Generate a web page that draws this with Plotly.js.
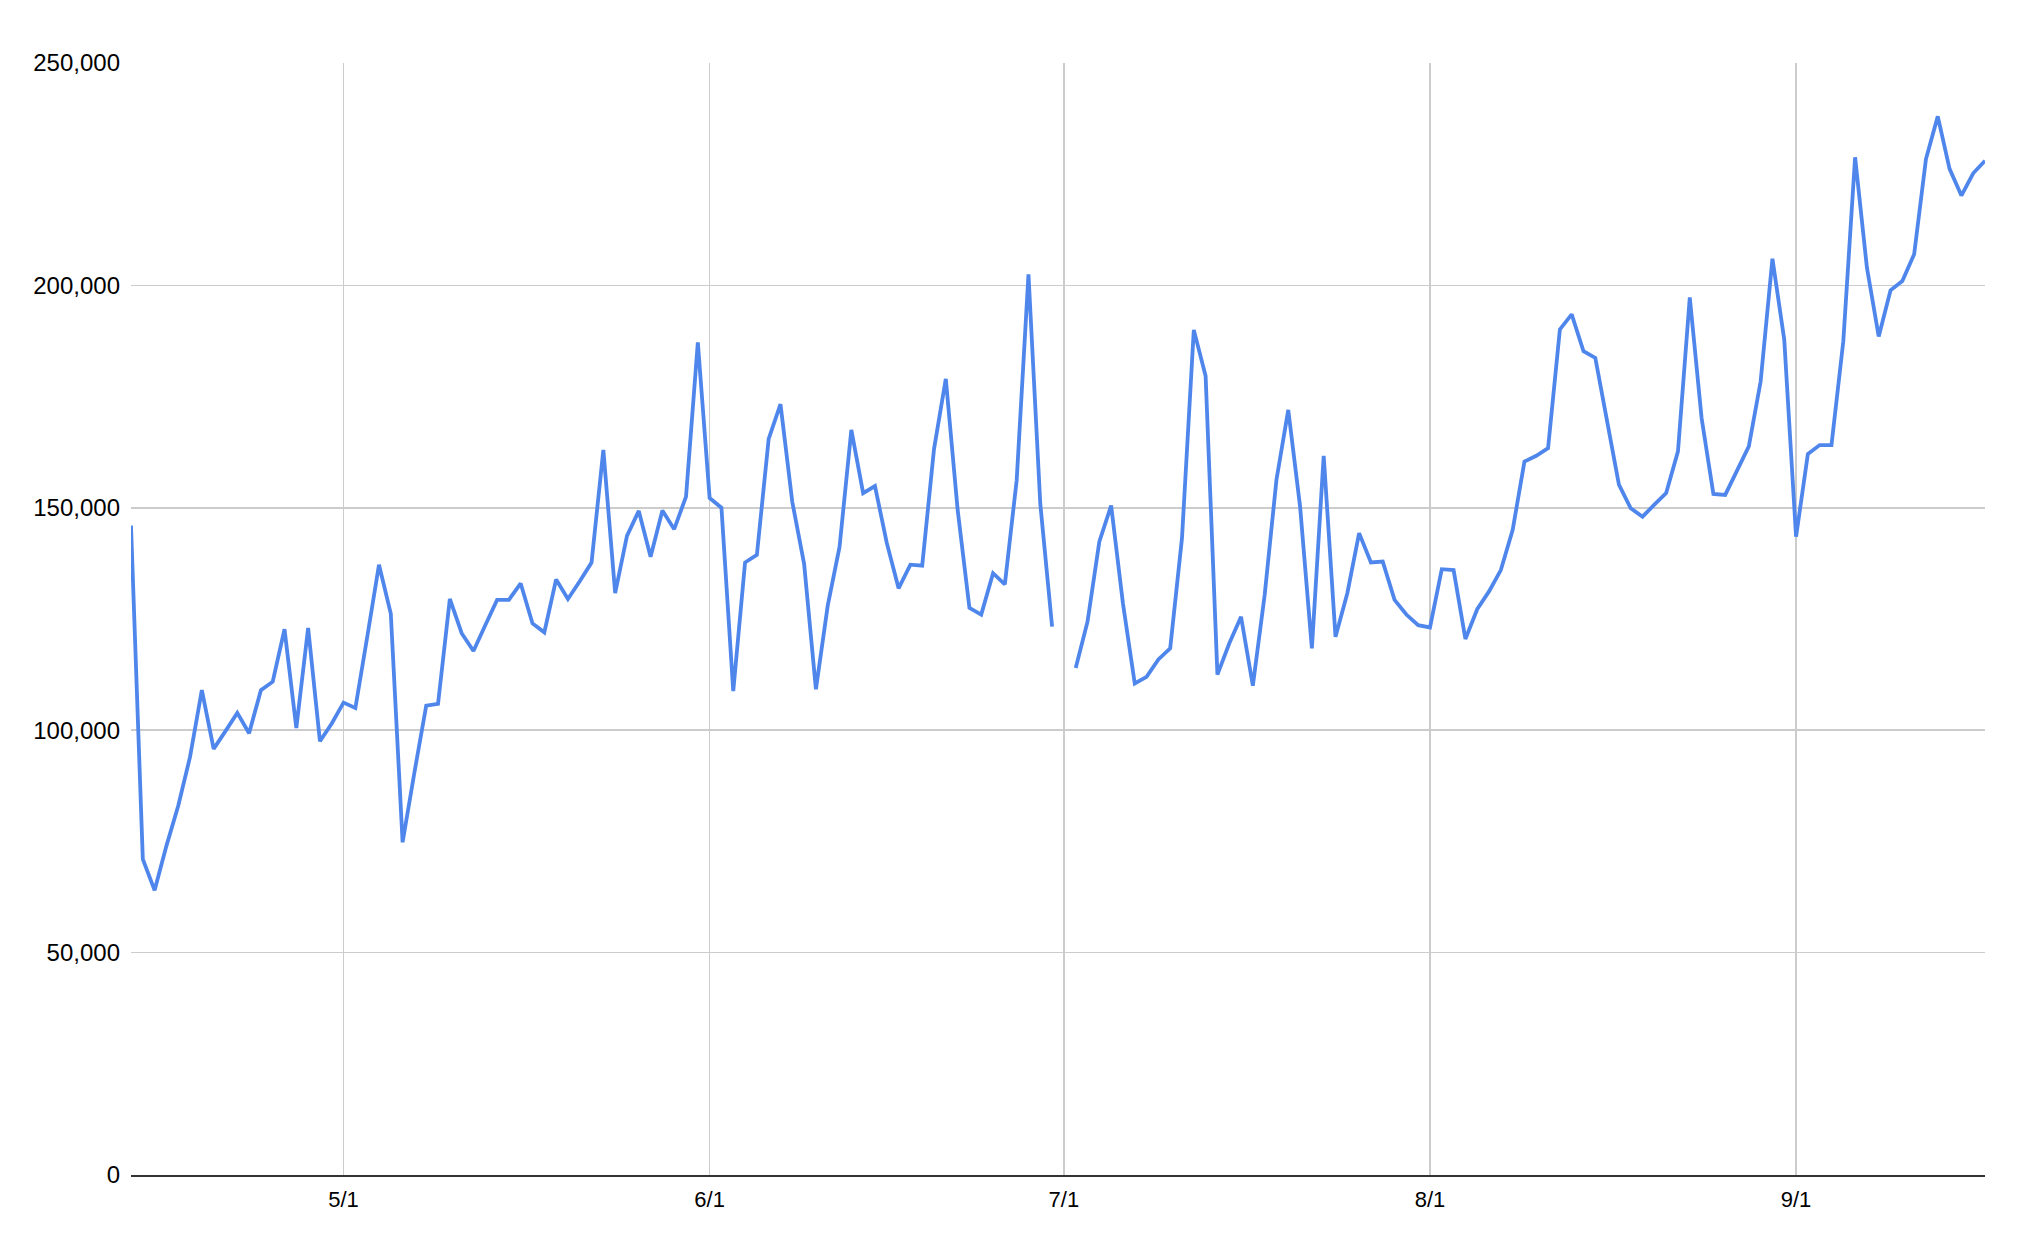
<!DOCTYPE html>
<html>
<head>
<meta charset="utf-8">
<script src="https://cdn.plot.ly/plotly-3.0.1.min.js"></script>
<style>
  html, body { margin: 0; padding: 0; background: #ffffff; }
  #chart { width: 2022px; height: 1250px; }
</style>
</head>
<body>
<div id="chart"></div>
<script>
// Daily dates (April 13 – September 17)
const datesApr = ["2023-04-13","2023-04-14","2023-04-15","2023-04-16","2023-04-17","2023-04-18","2023-04-19","2023-04-20","2023-04-21","2023-04-22","2023-04-23","2023-04-24","2023-04-25","2023-04-26","2023-04-27","2023-04-28","2023-04-29","2023-04-30"];
const datesMay = ["2023-05-01","2023-05-02","2023-05-03","2023-05-04","2023-05-05","2023-05-06","2023-05-07","2023-05-08","2023-05-09","2023-05-10","2023-05-11","2023-05-12","2023-05-13","2023-05-14","2023-05-15","2023-05-16","2023-05-17","2023-05-18","2023-05-19","2023-05-20","2023-05-21","2023-05-22","2023-05-23","2023-05-24","2023-05-25","2023-05-26","2023-05-27","2023-05-28","2023-05-29","2023-05-30","2023-05-31"];
const datesJun = ["2023-06-01","2023-06-02","2023-06-03","2023-06-04","2023-06-05","2023-06-06","2023-06-07","2023-06-08","2023-06-09","2023-06-10","2023-06-11","2023-06-12","2023-06-13","2023-06-14","2023-06-15","2023-06-16","2023-06-17","2023-06-18","2023-06-19","2023-06-20","2023-06-21","2023-06-22","2023-06-23","2023-06-24","2023-06-25","2023-06-26","2023-06-27","2023-06-28","2023-06-29","2023-06-30"];
const datesJul = ["2023-07-01","2023-07-02","2023-07-03","2023-07-04","2023-07-05","2023-07-06","2023-07-07","2023-07-08","2023-07-09","2023-07-10","2023-07-11","2023-07-12","2023-07-13","2023-07-14","2023-07-15","2023-07-16","2023-07-17","2023-07-18","2023-07-19","2023-07-20","2023-07-21","2023-07-22","2023-07-23","2023-07-24","2023-07-25","2023-07-26","2023-07-27","2023-07-28","2023-07-29","2023-07-30","2023-07-31"];
const datesAug = ["2023-08-01","2023-08-02","2023-08-03","2023-08-04","2023-08-05","2023-08-06","2023-08-07","2023-08-08","2023-08-09","2023-08-10","2023-08-11","2023-08-12","2023-08-13","2023-08-14","2023-08-15","2023-08-16","2023-08-17","2023-08-18","2023-08-19","2023-08-20","2023-08-21","2023-08-22","2023-08-23","2023-08-24","2023-08-25","2023-08-26","2023-08-27","2023-08-28","2023-08-29","2023-08-30","2023-08-31"];
const datesSep = ["2023-09-01","2023-09-02","2023-09-03","2023-09-04","2023-09-05","2023-09-06","2023-09-07","2023-09-08","2023-09-09","2023-09-10","2023-09-11","2023-09-12","2023-09-13","2023-09-14","2023-09-15","2023-09-16","2023-09-17"];

// Daily values per month (null = missing day)
const valuesApr = [146000,71000,64000,74000,83000,94000,109000,95800,99800,103900,99300,109000,110900,122700,100500,123000,97500,101500];
const valuesMay = [106200,105000,120900,137200,126200,74800,90500,105500,105900,129500,121800,117800,123600,129300,129300,133000,124000,122000,133900,129500,133500,137700,163000,130800,143700,149300,139000,149400,145200,152500,187200];
const valuesJun = [152200,150000,108800,137700,139400,165500,173300,151300,137400,109200,128000,141200,167500,153300,154900,142100,131900,137200,137000,163200,179000,149600,127500,126000,135300,132800,156200,202500,150900,123300];
const valuesJul = [null,114000,124400,142400,150500,128500,110500,112000,115900,118400,143200,190000,179600,112500,119500,125500,110000,130400,156300,172000,150300,118400,161700,121000,130800,144300,137700,137900,129300,126000,123600];
const valuesAug = [123100,136200,136000,120500,127200,131200,136000,145000,160400,161700,163400,190100,193500,185200,183700,169800,155200,149900,148000,150700,153300,162700,197300,170200,153100,152900,158300,163800,178400,206000,187800];
const valuesSep = [143500,162100,164100,164100,187400,228800,204000,188500,198900,201000,207000,228400,238000,226200,220200,225200,228000];

// Axis ticks
const xTickVals = ["2023-05-01","2023-06-01","2023-07-01","2023-08-01","2023-09-01"];
const xTickText = ["5/1","6/1","7/1","8/1","9/1"];
const yTickVals = [0,50000,100000,150000,200000,250000];
const yTickText = ["0","50,000","100,000","150,000","200,000","250,000"];

const dates = [].concat(datesApr, datesMay, datesJun, datesJul, datesAug, datesSep);
const values = [].concat(valuesApr, valuesMay, valuesJun, valuesJul, valuesAug, valuesSep);

const trace = {
  x: dates,
  y: values,
  type: "scatter",
  mode: "lines",
  connectgaps: false,
  line: { color: "#4f86ec", width: 3.8, shape: "linear" },
  hoverinfo: "x+y"
};

const font = "Arial, 'Liberation Sans', sans-serif";

const layout = {
  width: 2022,
  height: 1250,
  margin: { l: 131, r: 37, t: 63, b: 75, pad: 0 },
  paper_bgcolor: "#ffffff",
  plot_bgcolor: "#ffffff",
  showlegend: false,
  font: { family: font, size: 22, color: "#000000" },
  xaxis: {
    type: "date",
    range: ["2023-04-13", "2023-09-17"],
    tickmode: "array",
    tickvals: xTickVals,
    ticktext: xTickText,
    showgrid: true,
    gridcolor: "#cccccc",
    gridwidth: 1.5,
    showline: true,
    linecolor: "#333333",
    linewidth: 2,
    zeroline: false,
    ticks: "",
    ticklabelstandoff: 4,
    tickfont: { family: font, size: 22, color: "#000000" }
  },
  yaxis: {
    range: [0, 250000],
    tickmode: "array",
    tickvals: yTickVals,
    ticktext: yTickText,
    showgrid: true,
    gridcolor: "#cccccc",
    gridwidth: 1.5,
    zeroline: false,
    showline: false,
    ticks: "",
    ticklabelstandoff: 10,
    tickfont: { family: font, size: 24, color: "#000000" }
  }
};

Plotly.newPlot("chart", [trace], layout, { displayModeBar: false, staticPlot: true });
</script>
</body>
</html>
